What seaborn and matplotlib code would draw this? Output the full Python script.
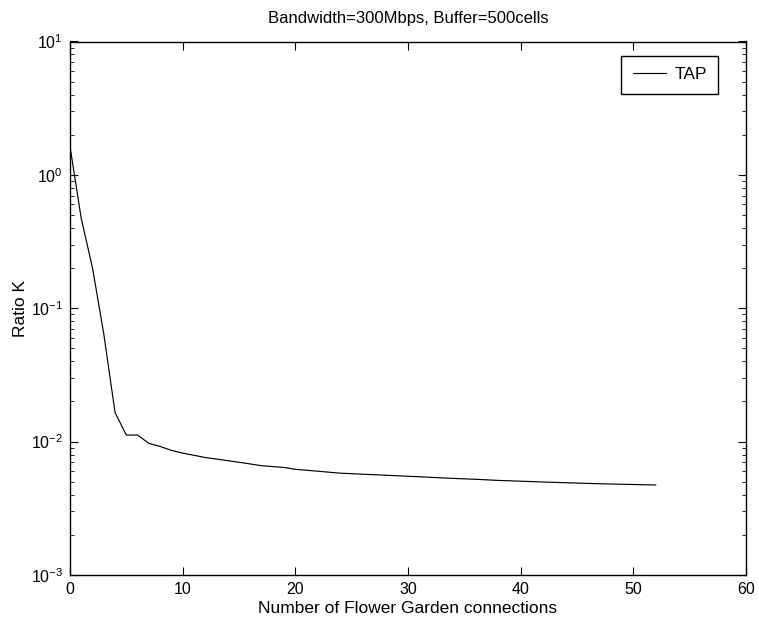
import matplotlib
matplotlib.use("Agg")
import matplotlib.pyplot as plt
import matplotlib.ticker as mticker
import pandas as pd
import seaborn as sns

connections = [0, 1, 2, 3, 4, 5, 6, 7, 8, 9, 10, 11, 12, 13, 14, 15, 16, 17, 18, 19, 20,
               22, 24, 26, 28, 30, 32, 34, 36, 38, 40, 42, 44, 46, 48, 50, 52]
ratio_k = [1.63, 0.47, 0.20, 0.064, 0.0165, 0.0112, 0.0112, 0.0097, 0.0092, 0.0086,
           0.0082, 0.0079, 0.0076, 0.0074, 0.0072, 0.0070, 0.0068, 0.0066, 0.0065,
           0.0064, 0.0062, 0.0060, 0.0058, 0.0057, 0.0056, 0.0055, 0.0054, 0.0053,
           0.00522, 0.00512, 0.00505, 0.00498, 0.00492, 0.00486, 0.00481, 0.00477, 0.00473]
series_name = "TAP"

df = pd.DataFrame({"x": connections, "y": ratio_k, "series": series_name})

sns.set_style("ticks")
plt.rcParams["font.family"] = ["Liberation Sans", "DejaVu Sans"]
plt.rcParams["mathtext.fontset"] = "custom"
plt.rcParams["mathtext.rm"] = "Liberation Sans"
for key in ("text.color", "axes.labelcolor", "xtick.color", "ytick.color", "axes.edgecolor"):
    plt.rcParams[key] = "black"

fig = plt.figure(figsize=(7.59, 6.24), dpi=100)
ax = fig.add_axes([70 / 759, 1 - 575 / 624, 676 / 759, 533.5 / 624])

sns.lineplot(data=df, x="x", y="y", hue="series", palette=["black"], linewidth=0.85, ax=ax)

ax.set_yscale("log")
ax.set_xlim(0, 60)
ax.set_ylim(1e-3, 1e1)
ax.xaxis.set_major_locator(mticker.MultipleLocator(10))
ax.yaxis.set_major_locator(mticker.LogLocator(base=10, numticks=10))
ax.yaxis.set_minor_locator(mticker.LogLocator(base=10, subs=range(2, 10), numticks=20))
ax.yaxis.set_minor_formatter(mticker.NullFormatter())

ax.tick_params(which="both", direction="in", top=True, right=True, labelsize=11.5, pad=5,
               colors="black")
ax.tick_params(which="major", length=6, width=0.8)
ax.tick_params(which="minor", length=3, width=0.6)
for s in ax.spines.values():
    s.set_linewidth(1.0)
    s.set_color("black")

ax.set_title("Bandwidth=300Mbps, Buffer=500cells", fontsize=12, pad=13, color="black")
ax.set_xlabel("Number of Flower Garden connections", fontsize=12.5, labelpad=3, color="black")
ax.set_ylabel("Ratio K", fontsize=12.5, labelpad=2, color="black")

leg = ax.legend(loc="upper right", bbox_to_anchor=(0.9586, 0.9728), fancybox=False,
                edgecolor="black", framealpha=1, fontsize=12.5, handlelength=1.9,
                handletextpad=0.5, borderpad=0.65, borderaxespad=0, labelcolor="black")
leg.get_frame().set_linewidth(1.0)

fig.savefig("out.png", dpi=100)
